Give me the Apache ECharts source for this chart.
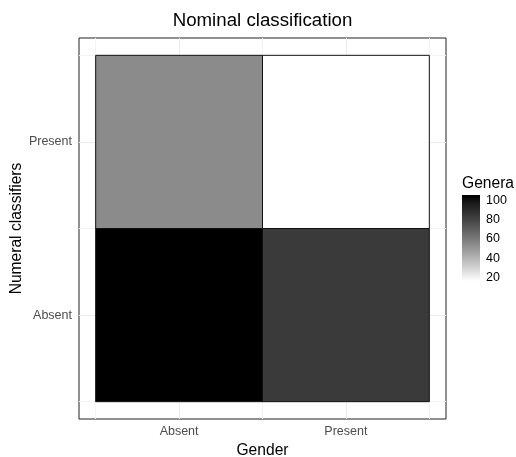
<!DOCTYPE html>
<html>
<head>
<meta charset="utf-8">
<script src="https://cdn.jsdelivr.net/npm/echarts@6/dist/echarts.min.js"></script>
<style>
html, body { margin: 0; padding: 0; background: #fff; }
#heat { width: 516px; height: 457px; }
</style>
</head>
<body>
<div id="heat"></div>
<script>
var genderCats = ['Absent', 'Present'];
var numeralCats = ['Absent', 'Present'];
// [gender index, numeral classifiers index, number of genera]
var generaValues = [
  [0, 0, 106],
  [1, 0, 84],
  [0, 1, 54],
  [1, 1, 16]
];
var legendTicks = [20, 40, 60, 80, 100];
var generaMin = 16;
var generaMax = 106;

var font = "'Liberation Sans', Arial, sans-serif";

// white -> black, interpolated on Lab lightness like ggplot
function grayFor(v)
{
    var t = (v - generaMin) / (generaMax - generaMin);
    var L = 100 * (1 - t);
    var fy = (L + 16) / 116;
    var Y = fy * fy * fy > 0.008856 ? fy * fy * fy : L / 903.3;
    var s = Y <= 0.0031308 ? 12.92 * Y : 1.055 * Math.pow(Y, 1 / 2.4) - 0.055;
    var g = Math.round(255 * Math.min(1, Math.max(0, s)));
    return 'rgb(' + g + ',' + g + ',' + g + ')';
}

var barStops = [];
for (var i = 0; i <= 10; ++i)
    barStops.push({ offset: i / 10, color: grayFor(generaMax - (generaMax - generaMin) * i / 10) });

var heatChart = echarts.init(document.getElementById('heat'));

heatOption = {
    animation: false,
    textStyle: { fontFamily: font },
    title: [
      {
        text: 'Nominal classification',
        left: 262.5,
        textAlign: 'center',
        top: 11,
        padding: 0,
        textStyle: { fontSize: 18.7, fontWeight: 'normal', color: '#000', fontFamily: font }
      },
      {
        text: 'Genera',
        left: 462,
        top: 176,
        padding: 0,
        textStyle: { fontSize: 15.6, fontWeight: 'normal', color: '#000', fontFamily: font }
      }
    ],
    grid: [
      {
        left: 79, right: 70, top: 38, bottom: 38,
        outerBoundsMode: 'none', containLabel: false,
        show: true, borderColor: '#222', borderWidth: 1, backgroundColor: 'transparent'
      },
      { left: 462, top: 195, width: 18, height: 86, outerBoundsMode: 'none', containLabel: false }
    ],
    xAxis: [
      {
        type: 'value', gridIndex: 0, min: -0.6, max: 1.6, position: 'bottom',
        axisLine: { show: false },
        axisTick: { show: true, customValues: [0, 1], length: 4, lineStyle: { color: '#333' } },
        axisLabel: {
          customValues: [0, 1], margin: 6, fontSize: 12.5, color: '#4d4d4d', fontFamily: font,
          formatter: function (v) { return genderCats[Math.round(v)]; }
        },
        splitLine: { show: true, lineStyle: { color: '#ebebeb', width: 1 } },
        name: 'Gender', nameLocation: 'middle', nameGap: 24, nameMoveOverlap: false,
        nameTextStyle: { fontSize: 15.6, color: '#000', fontFamily: font }
      },
      {
        type: 'value', gridIndex: 0, min: -0.6, max: 1.6, position: 'top',
        axisLine: { show: false },
        axisTick: { show: false, customValues: [-0.5, 0.5, 1.5] },
        axisLabel: { show: false, customValues: [-0.5, 0.5, 1.5] },
        splitLine: { show: true, lineStyle: { color: '#f3f3f3', width: 1 } }
      },
      { type: 'value', gridIndex: 1, min: 0, max: 1, show: false }
    ],
    yAxis: [
      {
        type: 'value', gridIndex: 0, min: -0.6, max: 1.6, position: 'left',
        axisLine: { show: false },
        axisTick: { show: true, customValues: [0, 1], length: 4, lineStyle: { color: '#333' } },
        axisLabel: {
          customValues: [0, 1], margin: 7, fontSize: 12.5, color: '#4d4d4d', fontFamily: font,
          formatter: function (v) { return numeralCats[Math.round(v)]; }
        },
        splitLine: { show: true, lineStyle: { color: '#ebebeb', width: 1 } },
        name: 'Numeral classifiers', nameLocation: 'middle', nameGap: 54, nameMoveOverlap: false,
        nameTextStyle: { fontSize: 15.6, color: '#000', fontFamily: font }
      },
      {
        type: 'value', gridIndex: 0, min: -0.6, max: 1.6, position: 'right',
        axisLine: { show: false },
        axisTick: { show: false, customValues: [-0.5, 0.5, 1.5] },
        axisLabel: { show: false, customValues: [-0.5, 0.5, 1.5] },
        splitLine: { show: true, lineStyle: { color: '#f3f3f3', width: 1 } }
      },
      {
        type: 'value', gridIndex: 1, min: generaMin, max: generaMax, position: 'right',
        axisLine: { show: false },
        axisTick: { show: true, inside: true, length: 4, customValues: legendTicks, lineStyle: { color: '#fff' } },
        axisLabel: { customValues: legendTicks, margin: 6, fontSize: 12.5, color: '#000', fontFamily: font },
        splitLine: { show: false }
      },
      {
        type: 'value', gridIndex: 1, min: generaMin, max: generaMax, position: 'left',
        axisLine: { show: false },
        axisTick: { show: true, inside: true, length: 4, customValues: legendTicks, lineStyle: { color: '#fff' } },
        axisLabel: { show: false, customValues: legendTicks },
        splitLine: { show: false }
      }
    ],
    series: [
      {
        name: 'Genera',
        type: 'custom',
        xAxisIndex: 0,
        yAxisIndex: 0,
        z: 5,
        encode: { x: 0, y: 1 },
        data: generaValues,
        renderItem: function (params, api) {
            var x = api.value(0), y = api.value(1);
            var p0 = api.coord([x - 0.5, y + 0.5]);
            var p1 = api.coord([x + 0.5, y - 0.5]);
            return {
                type: 'rect',
                shape: { x: p0[0], y: p0[1], width: p1[0] - p0[0], height: p1[1] - p0[1] },
                style: { fill: grayFor(api.value(2)), stroke: '#111', lineWidth: 1 }
            };
        }
      },
      {
        name: 'colorbar',
        type: 'custom',
        xAxisIndex: 2,
        yAxisIndex: 2,
        z: 1,
        data: [[0, generaMin, generaMax]],
        renderItem: function (params, api) {
            var p0 = api.coord([0, api.value(2)]);
            var p1 = api.coord([1, api.value(1)]);
            return {
                type: 'rect',
                shape: { x: p0[0], y: p0[1], width: p1[0] - p0[0], height: p1[1] - p0[1] },
                style: { fill: { type: 'linear', x: 0, y: 0, x2: 0, y2: 1, colorStops: barStops } }
            };
        }
      }
    ]
  };

heatChart.setOption(heatOption);
</script>
</body>
</html>
